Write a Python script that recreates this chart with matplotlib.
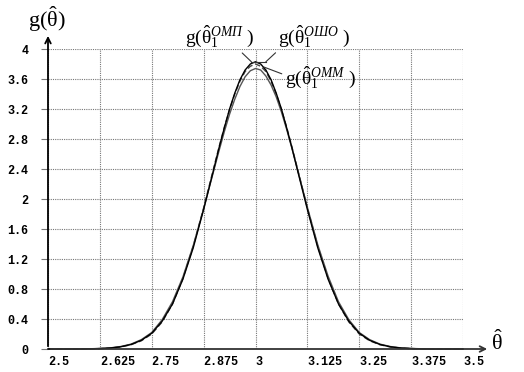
import matplotlib
matplotlib.use("Agg")
import matplotlib.pyplot as plt

plt.rcParams['mathtext.fontset'] = 'custom'
plt.rcParams['mathtext.rm'] = 'Liberation Serif'
plt.rcParams['mathtext.it'] = 'Liberation Serif:italic'

# values (denser near the peak)
theta = [2.5, 2.525, 2.55, 2.575, 2.6, 2.625, 2.65, 2.675, 2.7, 2.725,
         2.75, 2.775, 2.8, 2.825, 2.85, 2.875, 2.9, 2.9125, 2.925, 2.9375,
         2.95, 2.9625, 2.975, 2.9875, 3.0, 3.0125, 3.025, 3.0375, 3.05, 3.0625,
         3.075, 3.0875, 3.1, 3.125, 3.15, 3.175, 3.2, 3.225, 3.25, 3.275,
         3.3, 3.325, 3.35, 3.375, 3.4, 3.425, 3.45, 3.475, 3.5]
g_omp = [0, 0, 0, 0, 0.002, 0.006, 0.013, 0.029, 0.06, 0.116,
         0.21, 0.37, 0.6, 0.93, 1.35, 1.86, 2.41, 2.69, 2.95, 3.2,
         3.41, 3.59, 3.72, 3.8, 3.83, 3.8, 3.72, 3.59, 3.41, 3.2,
         2.95, 2.69, 2.41, 1.86, 1.35, 0.93, 0.6, 0.37, 0.21, 0.116,
         0.06, 0.029, 0.013, 0.006, 0.002, 0, 0, 0, 0]
g_osho = [0, 0, 0, 0, 0.002, 0.005, 0.012, 0.027, 0.057, 0.11,
          0.2, 0.36, 0.6, 0.94, 1.37, 1.88, 2.43, 2.7, 2.96, 3.19,
          3.4, 3.57, 3.7, 3.77, 3.8, 3.77, 3.7, 3.57, 3.4, 3.19,
          2.96, 2.7, 2.43, 1.88, 1.37, 0.94, 0.6, 0.36, 0.2, 0.11,
          0.057, 0.027, 0.012, 0.005, 0.002, 0, 0, 0, 0]
g_omm = [0, 0, 0, 0, 0.003, 0.007, 0.015, 0.033, 0.065, 0.125,
         0.22, 0.39, 0.63, 0.96, 1.38, 1.87, 2.39, 2.65, 2.9, 3.13,
         3.33, 3.5, 3.63, 3.71, 3.74, 3.72, 3.64, 3.52, 3.36, 3.16,
         2.93, 2.68, 2.42, 1.89, 1.39, 0.97, 0.63, 0.39, 0.22, 0.125,
         0.065, 0.033, 0.015, 0.007, 0.003, 0, 0, 0, 0]

xticks = [2.5, 2.625, 2.75, 2.875, 3.0, 3.125, 3.25, 3.375, 3.5]
xlabels = ['2.5', '2.625', '2.75', '2.875', '3', '3.125', '3.25', '3.375', '3.5']
yticks = [0, 0.4, 0.8, 1.2, 1.6, 2.0, 2.4, 2.8, 3.2, 3.6, 4.0]
ylabels = ['0', '0.4', '0.8', '1.2', '1.6', '2', '2.4', '2.8', '3.2', '3.6', '4']

W, H = 524, 372
fig = plt.figure(figsize=(W / 100, H / 100), dpi=100)
ax = fig.add_axes([48 / W, 1 - 349 / H, (463 - 48) / W, (349 - 49) / H])
ax.set_xlim(2.5, 3.5)
ax.set_ylim(0, 4)
for s in ax.spines.values():
    s.set_visible(False)

ax.grid(True, color='#777777', linestyle=(0, (1, 1)), linewidth=0.8)
ax.set_xticks(xticks)
ax.set_yticks(yticks)
ax.set_xticklabels(xlabels, ha='left')
ax.set_yticklabels(ylabels)
ax.tick_params(axis='x', length=0, pad=5)
ax.tick_params(axis='y', length=5, color='#777777', pad=9)
for lab in ax.get_xticklabels() + ax.get_yticklabels():
    lab.set_fontfamily('Liberation Mono')
    lab.set_fontweight('bold')
    lab.set_fontsize(8.5)

ax.plot(theta, g_omm, color='#555555', linewidth=1.0, clip_on=False)
ax.plot(theta, g_osho, color='#444444', linewidth=1.0, linestyle=(0, (4, 2)), clip_on=False)
ax.plot(theta, g_omp, color='black', linewidth=1.0, clip_on=False)

# axes with arrows
ax.annotate('', xy=(1.065, 0), xycoords='axes fraction', xytext=(0, 0),
            arrowprops=dict(arrowstyle='->', color='#333333', lw=1.3))
ax.annotate('', xy=(0, 1.053), xycoords='axes fraction', xytext=(0, 0),
            arrowprops=dict(arrowstyle='->', color='black', lw=1.3))

fig.text(28 / W, 1 - 19 / H, r'$\mathrm{g}(\hat{\mathrm{\theta}})$', fontsize=16,
         va='center', ha='left')
fig.text(491 / W, 1 - 342 / H, r'$\hat{\mathrm{\theta}}$', fontsize=16,
         va='center', ha='left')

# labels for the three peaks
ax.annotate(r'$\mathrm{g}(\hat{\mathrm{\theta}}_1^{ОМП}\ )$', xy=(2.99, 3.83), xytext=(2.83, 4.16),
            fontsize=14, ha='left', va='center', annotation_clip=False,
            arrowprops=dict(arrowstyle='-', color='#333333', lw=0.8, shrinkA=0, shrinkB=0,
                            relpos=(0.78, 0.0)))
ax.annotate(r'$\mathrm{g}(\hat{\mathrm{\theta}}_1^{ОШО}\ )$', xy=(3.025, 3.83), xytext=(3.055, 4.16),
            fontsize=14, ha='left', va='center', annotation_clip=False,
            arrowprops=dict(arrowstyle='-', color='#333333', lw=0.8, shrinkA=0, shrinkB=0,
                            relpos=(0.0, 0.0)))
ax.annotate(r'$\mathrm{g}(\hat{\mathrm{\theta}}_1^{ОММ}\ )$', xy=(3.02, 3.76), xytext=(3.07, 3.62),
            fontsize=14, ha='left', va='center', annotation_clip=False,
            arrowprops=dict(arrowstyle='-', color='#333333', lw=0.8, shrinkA=0, shrinkB=0,
                            relpos=(0.0, 0.6)))
ax.plot([2.99, 3.025], [3.83, 3.83], color='#333333', linewidth=0.8, clip_on=False)

fig.savefig('out.png', dpi=100)
